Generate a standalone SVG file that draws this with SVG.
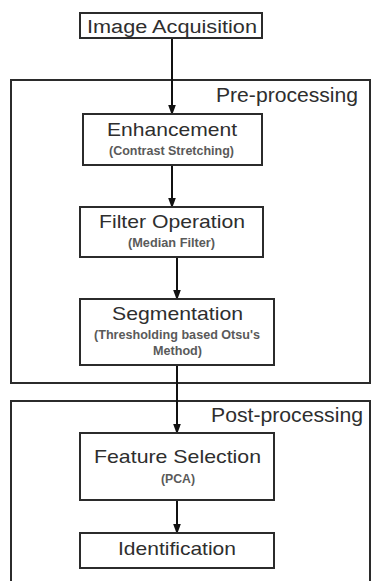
<svg xmlns="http://www.w3.org/2000/svg" width="372" height="581" viewBox="0 0 372 581">
  <defs>
    <marker id="arr" markerUnits="userSpaceOnUse" markerWidth="10" markerHeight="13" refX="9.5" refY="4" orient="auto">
      <path d="M0,0 L11,4 L0,8 Z" fill="#111"/>
    </marker>
    <style>
      .box { fill: #fff; stroke: #2b2b2b; stroke-width: 2; }
      .grp { fill: none; stroke: #2b2b2b; stroke-width: 2; }
      .t { font-family: "Liberation Sans", Arial, sans-serif; fill: #2e2e2e; text-anchor: middle; }
      .m { font-size: 19px; }
      .s { font-size: 12.5px; fill: #5a5a5a; font-weight: bold; }
      .g { font-size: 20px; text-anchor: start; }
      .c { fill: none; stroke: #111; stroke-width: 2; marker-end: url(#arr); }
    </style>
  </defs>
  <rect width="372" height="581" fill="#fff"/>

  <g id="pre-processing">
    <rect class="grp" x="11" y="80" width="359" height="303"/>
    <text class="t g" x="216" y="102" textLength="142" lengthAdjust="spacingAndGlyphs">Pre-processing</text>
  </g>
  <g id="post-processing">
    <rect class="grp" x="11" y="401" width="359" height="200"/>
    <text class="t g" x="211" y="422" textLength="152" lengthAdjust="spacingAndGlyphs">Post-processing</text>
  </g>

  <g id="connectors">
    <line class="c" x1="172" y1="38" x2="172" y2="114"/>
    <line class="c" x1="172" y1="165" x2="172" y2="207"/>
    <line class="c" x1="177" y1="257" x2="177" y2="299"/>
    <line class="c" x1="177" y1="365" x2="177" y2="433"/>
    <line class="c" x1="177" y1="500" x2="177" y2="533"/>
  </g>

  <g id="image-acquisition">
    <rect class="box" x="80" y="13" width="182" height="25"/>
    <text class="t" style="font-size:18px" x="172" y="33" textLength="170" lengthAdjust="spacingAndGlyphs">Image Acquisition</text>
  </g>
  <g id="enhancement">
    <rect class="box" x="83" y="114" width="179" height="51"/>
    <text class="t m" x="172" y="136" textLength="130" lengthAdjust="spacingAndGlyphs">Enhancement</text>
    <text class="t s" x="171.5" y="155" textLength="125" lengthAdjust="spacingAndGlyphs">(Contrast Stretching)</text>
  </g>
  <g id="filter-operation">
    <rect class="box" x="80" y="207" width="183" height="50"/>
    <text class="t m" x="172" y="228" textLength="146" lengthAdjust="spacingAndGlyphs">Filter Operation</text>
    <text class="t s" x="171.5" y="247" textLength="87" lengthAdjust="spacingAndGlyphs">(Median Filter)</text>
  </g>
  <g id="segmentation">
    <rect class="box" x="80" y="299" width="194" height="66"/>
    <text class="t m" x="177.5" y="320" textLength="131" lengthAdjust="spacingAndGlyphs">Segmentation</text>
    <text class="t s" x="177" y="339" textLength="166" lengthAdjust="spacingAndGlyphs">(Thresholding based Otsu's</text>
    <text class="t s" x="177.5" y="355" textLength="49" lengthAdjust="spacingAndGlyphs">Method)</text>
  </g>
  <g id="feature-selection">
    <rect class="box" x="80" y="433" width="194" height="67"/>
    <text class="t m" x="177.5" y="463" textLength="167" lengthAdjust="spacingAndGlyphs">Feature Selection</text>
    <text class="t s" x="178" y="483" textLength="34" lengthAdjust="spacingAndGlyphs">(PCA)</text>
  </g>
  <g id="identification">
    <rect class="box" x="80" y="533" width="194" height="35"/>
    <text class="t m" x="177" y="555" textLength="118" lengthAdjust="spacingAndGlyphs">Identification</text>
  </g>
</svg>
